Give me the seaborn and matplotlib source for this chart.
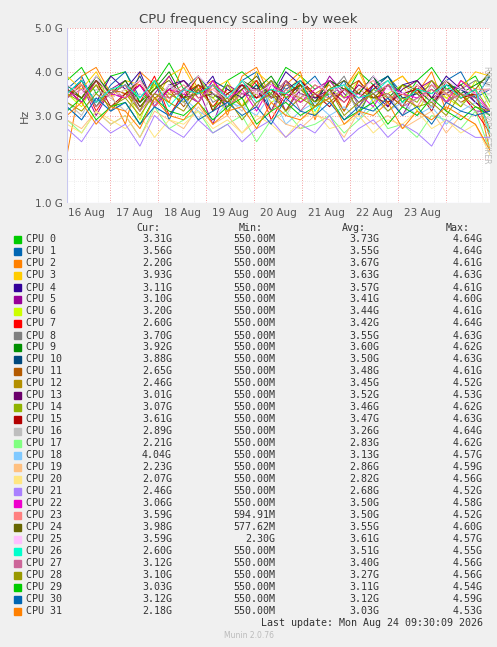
import numpy as np
import pandas as pd
import matplotlib
matplotlib.use("Agg")
import matplotlib.pyplot as plt
import seaborn as sns

# ---- data ----
cpu_names = [f"CPU {i}" for i in range(32)]
colors = ["#00CC00","#0066B3","#FF8000","#FFCC00","#330099","#990099","#CCFF00","#FF0000",
          "#808080","#008F00","#00487D","#B35A00","#B38F00","#6B006B","#8FB300","#B30000",
          "#BEBEBE","#80FF80","#80C9FF","#FFC080","#FFE680","#AA80FF","#EE00CC","#FF8080",
          "#666600","#FFBFFF","#00FFCC","#CC6699","#999900","#00CC00","#0066B3","#FF8000"]
cur = ["3.31G","3.56G","2.20G","3.93G","3.11G","3.10G","3.20G","2.60G","3.70G","3.92G","3.88G","2.65G",
       "2.46G","3.01G","3.07G","3.61G","2.89G","2.21G","4.04G","2.23G","2.07G","2.46G","3.06G","3.59G",
       "3.98G","3.59G","2.60G","3.12G","3.10G","3.03G","3.12G","2.18G"]
mins = ["550.00M"]*23 + ["594.91M","577.62M","2.30G"] + ["550.00M"]*6
avgs = ["3.73G","3.55G","3.67G","3.63G","3.57G","3.41G","3.44G","3.42G","3.55G","3.60G","3.50G","3.48G",
        "3.45G","3.52G","3.46G","3.47G","3.26G","2.83G","3.13G","2.86G","2.82G","2.68G","3.50G","3.50G",
        "3.55G","3.61G","3.51G","3.40G","3.27G","3.11G","3.12G","3.03G"]
maxs = ["4.64G","4.64G","4.61G","4.63G","4.61G","4.60G","4.61G","4.64G","4.63G","4.62G","4.63G","4.61G",
        "4.52G","4.53G","4.62G","4.63G","4.64G","4.62G","4.57G","4.59G","4.56G","4.52G","4.58G","4.52G",
        "4.60G","4.57G","4.55G","4.56G","4.56G","4.54G","4.59G","4.53G"]
tick_labels = ["16 Aug","17 Aug","18 Aug","19 Aug","20 Aug","21 Aug","22 Aug","23 Aug"]
# frequency samples, GHz*10
series_values = [
 [38,41,35,39,40,33,37,42,36,39,31,38,40,37,35,41,39,36,38,34,40,37,39,33,38,41,36,37,39,33],
 [36,39,32,37,40,34,38,29,36,39,35,33,38,40,31,37,36,39,34,38,30,37,39,35,36,33,38,40,34,36],
 [21,39,41,35,28,40,37,33,42,36,38,30,39,41,34,37,40,29,38,36,41,33,37,39,35,40,31,38,36,22],
 [39,36,40,34,38,37,33,39,41,35,36,38,32,40,37,35,39,34,38,36,40,33,37,39,35,38,34,36,40,39],
 [35,38,33,39,36,40,32,37,38,35,39,31,36,38,34,40,37,33,38,36,35,39,32,37,38,34,39,36,33,31],
 [34,37,30,36,38,32,35,39,33,36,28,37,35,34,38,31,36,33,39,35,32,37,34,30,36,38,33,35,31,31],
 [35,32,38,34,36,29,37,35,33,39,34,31,36,38,33,35,37,30,36,34,38,33,35,37,31,36,34,32,38,32],
 [34,38,31,36,35,33,39,30,35,37,32,36,34,38,29,35,37,33,36,31,38,34,35,32,37,33,36,35,31,26],
 [36,33,39,35,37,31,38,34,36,39,33,35,37,32,38,36,34,37,35,39,32,36,38,34,35,37,33,36,38,37],
 [37,34,39,35,38,33,36,40,34,37,35,32,38,36,39,34,37,33,38,36,35,39,34,37,36,33,38,35,37,39],
 [35,38,33,36,34,39,32,37,35,33,38,36,34,37,31,36,38,34,35,37,33,36,39,34,35,32,37,36,34,39],
 [36,33,37,31,35,38,34,36,32,37,35,33,38,34,36,31,37,35,33,36,38,34,35,32,37,34,36,33,35,27],
 [34,37,32,36,35,31,38,34,36,33,37,35,32,36,34,38,33,35,37,31,36,34,33,37,35,32,36,34,35,25],
 [36,33,38,35,34,37,32,36,38,34,35,33,37,36,31,38,35,34,36,33,37,35,32,36,38,34,35,37,33,30],
 [35,33,37,34,36,31,38,35,33,36,34,37,32,35,38,34,36,33,35,37,31,36,34,35,33,38,35,32,36,31],
 [36,34,38,32,35,37,33,36,34,39,31,35,37,34,36,33,38,35,32,36,34,37,33,35,36,31,38,34,35,36],
 [33,30,36,34,31,35,32,37,33,29,35,34,31,36,33,30,35,32,34,36,31,33,35,30,34,32,36,33,31,29],
 [29,26,31,28,30,25,32,27,29,31,26,28,30,24,29,31,27,28,30,26,29,32,27,28,25,30,29,27,31,22],
 [32,29,34,31,33,28,32,30,34,31,29,33,32,30,35,28,31,33,30,32,29,34,31,33,30,32,28,31,33,40],
 [29,27,31,28,30,25,31,29,27,32,28,30,26,29,31,28,27,30,29,25,31,28,30,27,29,31,26,30,28,22],
 [28,26,31,29,27,30,25,29,28,31,27,29,26,30,28,25,29,31,27,28,30,26,29,28,31,27,29,26,28,21],
 [27,24,29,26,28,23,30,27,25,29,26,28,24,27,29,25,28,26,30,24,27,29,25,28,26,23,29,27,25,25],
 [36,33,38,35,34,37,32,36,35,33,38,34,36,31,37,35,33,36,38,34,35,32,37,35,34,36,33,38,35,31],
 [35,37,33,36,34,38,32,35,37,34,36,33,38,35,31,36,34,37,35,33,36,38,34,35,32,37,35,34,36,36],
 [36,34,38,35,37,32,36,38,34,35,37,33,36,39,34,35,37,32,36,38,35,34,37,33,36,35,38,34,36,40],
 [37,35,39,34,36,38,33,37,35,39,36,34,38,35,37,33,36,38,35,37,34,39,36,35,37,33,38,36,35,36],
 [35,38,33,36,37,34,38,32,36,35,37,34,38,33,36,35,38,31,36,37,34,35,38,33,36,35,37,34,36,26],
 [34,36,32,35,37,31,35,34,36,33,37,32,35,36,34,38,31,35,34,36,33,35,37,32,34,36,33,35,34,31],
 [33,31,35,32,34,30,35,33,31,36,32,34,29,33,35,31,34,32,36,30,33,35,31,34,32,33,30,35,32,31],
 [31,34,29,32,33,28,34,31,30,33,29,32,34,28,31,33,30,32,34,29,31,33,28,32,30,34,31,29,32,30],
 [32,29,34,31,33,28,32,30,34,29,31,33,30,32,28,34,31,30,33,29,32,31,34,30,32,28,33,31,30,31],
 [30,33,28,32,31,27,34,30,29,33,28,31,32,27,33,30,29,32,34,28,31,30,33,27,31,29,32,30,28,22],
]

# ---- figure ----
W, H = 497, 647
sns.set_style("white")
plt.rcParams["font.family"] = ["DejaVu Sans"]
fig = plt.figure(figsize=(W/100, H/100), dpi=100, facecolor="#F0F0F0")
def fx(x): return x / W
def fy(y): return 1 - y / H
ax = fig.add_axes([fx(67), fy(203), fx(423), (203 - 28) / H])
ax.set_facecolor("white")

span = 423 / 48
n = len(series_values[0])
t = np.linspace(0, span, n)
rows = []
for name, vals in zip(cpu_names, series_values):
    for ti, v in zip(t, vals):
        rows.append((name, ti, v / 10))
df = pd.DataFrame(rows, columns=["cpu", "t", "hz"])
sns.lineplot(data=df, x="t", y="hz", hue="cpu", palette=colors, hue_order=cpu_names,
             linewidth=0.7, legend=False, ax=ax)
ax.set_xlim(0, span)
ax.set_ylim(1.0, 5.0)
ax.set_yticks([1, 2, 3, 4, 5])
ax.set_yticklabels(["1.0 G", "2.0 G", "3.0 G", "4.0 G", "5.0 G"])
midnight0 = 43 / 48
ax.set_xticks([midnight0 + i for i in range(9) if midnight0 + i < span])
ax.set_xticklabels([])
ax.set_xticks([midnight0 + i * 0.25 - 1 for i in range(40) if 0 < midnight0 + i * 0.25 - 1 < span], minor=True)
for i, lab in enumerate(tick_labels):
    ax.text(midnight0 - 0.5 + i, -0.06, lab, transform=ax.get_xaxis_transform(),
            ha="center", va="center", fontsize=7.5, color="#555555")
ax.tick_params(labelsize=7.5, colors="#555555", length=0, pad=3)
ax.tick_params(which="minor", length=0)
ax.grid(True, which="major", color="#F08080", linestyle=(0, (1, 2)), linewidth=0.6)
ax.grid(True, which="minor", axis="x", color="#DDDDDD", linestyle=(0, (1, 2)), linewidth=0.5)
ax.set_yticks([1.5, 2.5, 3.5, 4.5], minor=True)
ax.grid(True, which="minor", axis="y", color="#DDDDDD", linestyle=(0, (1, 2)), linewidth=0.5)
ax.set_xlabel(""); ax.set_ylabel("Hz", fontsize=8, color="#555555")
for s in ax.spines.values():
    s.set_visible(False)
ax.axhline(1.0, color="#C8C8F0", linewidth=0.8)
ax.axvline(0, color="#C8C8F0", linewidth=0.8)

fig.text(0.5, fy(19), "CPU frequency scaling - by week", ha="center", va="center",
         fontsize=9.5, color="#444444")
fig.text(fx(487), fy(115), "RRDTOOL / TOBI OETIKER", rotation=270, ha="center", va="center",
         fontsize=5.5, color="#BBBBBB")

mono = "DejaVu Sans Mono"
fs = 7.2
tc = "#333333"
y0 = 239.5
dy = (611.5 - 239.5) / 31
hy = 228
for xr, lab in [(160, "Cur:"), (263, "Min:"), (366, "Avg:"), (470, "Max:")]:
    fig.text(fx(xr), fy(hy), lab, ha="right", va="center", family=mono, fontsize=fs, color=tc)
for i, name in enumerate(cpu_names):
    y = y0 + i * dy
    fig.patches.append(plt.Rectangle((fx(14), fy(y + 3.5)), fx(7), 7 / H, color=colors[i],
                                     transform=fig.transFigure, figure=fig))
    fig.text(fx(26), fy(y), name, ha="left", va="center", family=mono, fontsize=fs, color=tc)
    fig.text(fx(172), fy(y), cur[i], ha="right", va="center", family=mono, fontsize=fs, color=tc)
    fig.text(fx(275), fy(y), mins[i], ha="right", va="center", family=mono, fontsize=fs, color=tc)
    fig.text(fx(379), fy(y), avgs[i], ha="right", va="center", family=mono, fontsize=fs, color=tc)
    fig.text(fx(483), fy(y), maxs[i], ha="right", va="center", family=mono, fontsize=fs, color=tc)
fig.text(fx(483), fy(623.5), "Last update: Mon Aug 24 09:30:09 2026", ha="right", va="center",
         family=mono, fontsize=fs, color=tc)
fig.text(0.5, fy(636), "Munin 2.0.76", ha="center", va="center", fontsize=5.5, color="#BBBBBB")

fig.savefig("out.png", dpi=100, facecolor=fig.get_facecolor())
